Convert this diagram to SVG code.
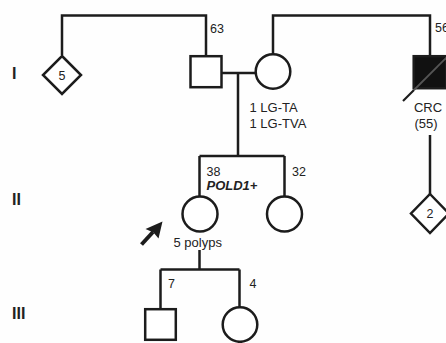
<svg xmlns="http://www.w3.org/2000/svg" width="446" height="343" viewBox="0 0 446 343">
<style>
.ln{fill:none;stroke:#1c1c1c;stroke-width:2.5;}
.sh{fill:#fff;stroke:#1c1c1c;stroke-width:2.5;}
.t{font-family:"Liberation Sans",Arial,sans-serif;font-size:13px;fill:#222;}
.n{font-family:"Liberation Sans",Arial,sans-serif;font-size:12.5px;fill:#222;}
.g{font-family:"Liberation Sans",Arial,sans-serif;font-size:16px;font-weight:bold;fill:#222;}
</style>
<rect width="446" height="343" fill="#fefefe"/>
<g id="generations">
<text class="g" x="12" y="79">I</text>
<text class="g" x="12" y="205">II</text>
<text class="g" x="12" y="319">III</text>
</g>
<g id="connectors">
<path class="ln" d="M62,55 V15.5 H206 V56"/>
<path class="ln" d="M273,54 V15.5 H430 V56"/>
<path class="ln" d="M222,73 H256"/>
<path class="ln" d="M238,73 V156 M199.5,156 H284.5 M199.5,156 V196 M284.5,156 V196"/>
<path class="ln" d="M430,135 V194"/>
<path class="ln" d="M199.5,250 V269.5 M160.5,269.5 H239.5 M160.5,269.5 V309 M239.5,269.5 V307"/>
</g>
<g id="I-1">
<polygon class="sh" points="62,56 81,75 62,94 43,75"/>
<text class="n" x="62" y="79.5" text-anchor="middle">5</text>
</g>
<g id="I-2">
<rect class="sh" x="190.5" y="56.2" width="31" height="31"/>
<text class="n" x="210" y="32.5">63</text>
</g>
<g id="I-3">
<circle class="sh" cx="273" cy="71.5" r="17.3"/>
<text class="t" x="249.5" y="112">1 LG-TA</text>
<text class="t" x="249.5" y="128">1 LG-TVA</text>
</g>
<g id="I-4">
<rect x="413.7" y="56.2" width="32.5" height="32" fill="#111" stroke="#1c1c1c" stroke-width="2.5"/>
<line x1="403" y1="101" x2="414" y2="90" stroke="#1c1c1c" stroke-width="2.2"/>
<line x1="414" y1="90" x2="448" y2="56" stroke="#555" stroke-width="1.8"/>
<text class="n" x="435" y="32">56</text>
<text class="t" x="428" y="112" text-anchor="middle">CRC</text>
<text class="t" x="426" y="128" text-anchor="middle">(55)</text>
</g>
<g id="I-5">
<polygon class="sh" points="430,194 449,213.5 430,233 411,213.5"/>
<text class="n" x="430" y="218" text-anchor="middle">2</text>
</g>
<g id="II-1">
<circle class="sh" cx="200" cy="214" r="17.5"/>
<text class="n" x="206.5" y="176">38</text>
<text class="t" x="206.5" y="189.5" font-weight="bold" font-style="italic" font-size="14.5px">POLD1+</text>
<text class="t" x="173.5" y="246.5">5 polyps</text>
</g>
<g id="proband-arrow">
<line x1="141.5" y1="244.5" x2="153" y2="232" stroke="#1c1c1c" stroke-width="4"/>
<polygon points="162.5,221.5 158.5,238.5 153.5,232.5 145.5,229" fill="#1c1c1c"/>
</g>
<g id="II-2">
<circle class="sh" cx="284.5" cy="214" r="17.5"/>
<text class="n" x="292" y="176">32</text>
</g>
<g id="III-1">
<rect class="sh" x="145.2" y="309.2" width="30.6" height="30.6"/>
<text class="n" x="168" y="288">7</text>
</g>
<g id="III-2">
<circle class="sh" cx="240" cy="324.5" r="17.3"/>
<text class="n" x="249.5" y="288">4</text>
</g>
</svg>
